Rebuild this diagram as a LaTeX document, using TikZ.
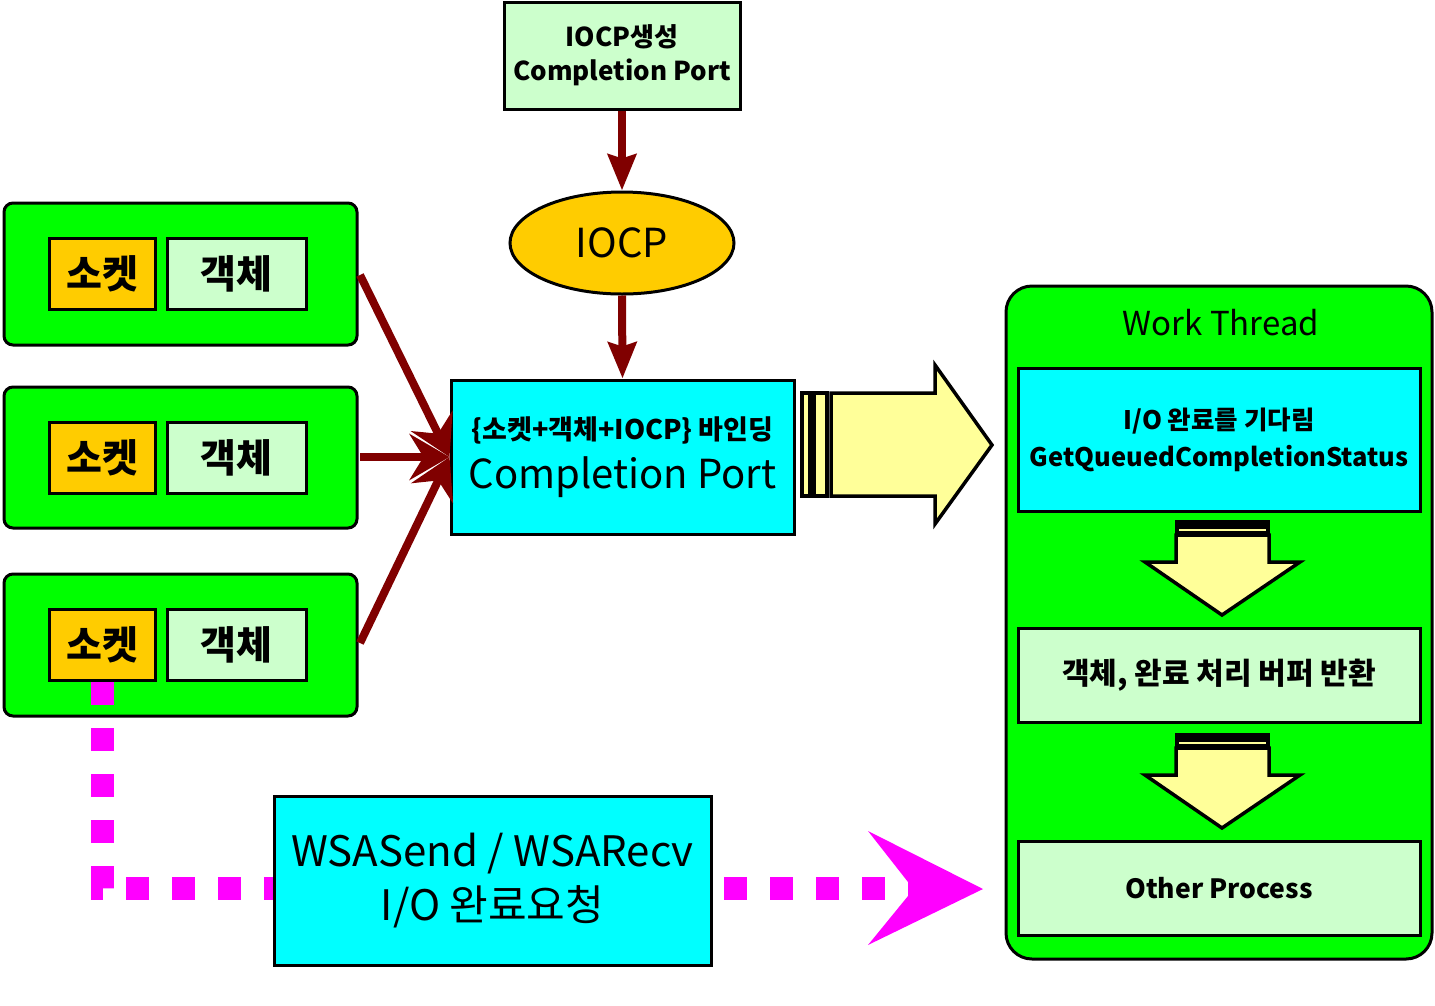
\documentclass[tikz,border=0pt]{standalone}
\usepackage{fontspec}
\setmainfont{Noto Sans CJK KR}
\usetikzlibrary{arrows.meta,shapes.geometric}
\definecolor{dred}{HTML}{800000}
\definecolor{lgreen}{HTML}{CCFFCC}
\definecolor{brgreen}{HTML}{00FF00}
\definecolor{gold}{HTML}{FFCC00}
\definecolor{cyanc}{HTML}{00FFFF}
\definecolor{pyellow}{HTML}{FFFF99}
\definecolor{mag}{HTML}{FF00FF}
\newcommand{\fsz}[2]{\fontsize{#1}{#2}\selectfont}
\begin{document}
\begin{tikzpicture}[x=1pt,y=-1pt,
  box/.style={draw=black,line width=3pt,inner sep=0pt,align=center},
  greenbox/.style={box,fill=brgreen,rounded corners=9pt,minimum width=353pt},
  sockbox/.style={box,fill=gold,minimum width=106pt,minimum height=71pt,font=\bfseries\fsz{39}{39}},
  objbox/.style={box,fill=lgreen,minimum width=139pt,minimum height=71pt,font=\bfseries\fsz{39}{39}},
  stepbox/.style={box,fill=lgreen,minimum width=402pt,minimum height=94pt},
  redarrow/.style={draw=dred,line width=8pt,-{Stealth[length=40pt,width=46pt,inset=14pt]}},
  vredarrow/.style={draw=dred,line width=8pt,-{Stealth[length=36pt,width=28pt,inset=4pt]}},
  blockarrow/.style={draw=black,line width=3.5pt,fill=pyellow,line join=miter},
]
\useasboundingbox (0,0) rectangle (1435,1005);

% top creation box
\node[box,fill=lgreen,minimum width=236pt,minimum height=107pt,font=\bfseries\fsz{26}{34}] (top) at (622,55.5)
  {IOCP생성\\Completion Port};
% IOCP ellipse
\node[draw=black,line width=3pt,fill=gold,ellipse,minimum width=224pt,minimum height=102pt,inner sep=0pt,font=\fsz{40}{40}] (iocp) at (622,243) {IOCP};
% binding box
\node[box,fill=cyanc,minimum width=343pt,minimum height=154pt,font=\fsz{40}{49}] (bind) at (622.5,457)
  {{\bfseries\fsz{27}{27}\{소켓+객체+IOCP\} 바인딩}\\Completion Port};

% left socket groups
\node[greenbox,minimum height=142pt] (g1) at (180.5,274) {};
\node[greenbox,minimum height=141pt] (g2) at (180.5,457.5) {};
\node[greenbox,minimum height=142pt] (g3) at (180.5,645) {};
\node[sockbox] (s1) at (102,273.5) {소켓};
\node[objbox] (o1) at (236.5,273.5) {객체};
\node[sockbox] (s2) at (102,457.5) {소켓};
\node[objbox] (o2) at (236.5,457.5) {객체};
\node[sockbox] (s3) at (102,645) {소켓};
\node[objbox] (o3) at (236.5,645) {객체};

% work thread
\node[box,fill=brgreen,rounded corners=26pt,minimum width=426pt,minimum height=673pt] (work) at (1219,622.5) {};
\node[font=\fsz{33}{33}] (wtitle) at (1221,323) {Work Thread};
\node[box,fill=cyanc,minimum width=402pt,minimum height=143pt,font=\bfseries\fsz{25.5}{37}] (wait) at (1219,439.5)
  {I/O 완료를 기다림\\GetQueuedCompletionStatus};
\node[stepbox,font=\bfseries\fsz{30}{30}] (proc) at (1219,675) {객체, 완료 처리 버퍼 반환};
\node[stepbox,font=\bfseries\fsz{26.5}{26.5}] (other) at (1219,888) {Other Process};

% red connectors
\draw[vredarrow] (top.south) -- (iocp.north);
\draw[vredarrow] (iocp.south) -- (bind.north);
\coordinate (a1) at (360,275);
\coordinate (a2) at (360,457);
\coordinate (a3) at (360,643);
\draw[redarrow] (a1) -- (bind.west);
\draw[redarrow] (a2) -- (bind.west);
\draw[redarrow] (a3) -- (bind.west);

% big block arrow to work thread
\draw[blockarrow] (802,393) rectangle (810,496);
\draw[blockarrow] (814,393) rectangle (827,496);
\draw[blockarrow] (831,393) -- (935,393) -- (935,365) -- (992,445) -- (935,524) -- (935,496) -- (831,496) -- cycle;

% down arrows inside work thread
\foreach \dy in {0,213}{
  \fill[black] (1175,520+\dy) rectangle (1270,535+\dy);
  \draw[pyellow,line width=1.5pt] (1179,530+\dy) -- (1266,530+\dy);
  \draw[blockarrow] (1176,535+\dy) -- (1269,535+\dy) -- (1269,562+\dy) -- (1300,562+\dy) -- (1222,615+\dy) -- (1145,562+\dy) -- (1176,562+\dy) -- cycle;
}

% magenta dotted request path
\coordinate (m0) at (102,682);
\coordinate (m1) at (102,888);
\coordinate (m2) at (885,888);
\draw[mag,line width=23pt,dash pattern=on 23pt off 23pt] (m0) -- (m1) -- (m2);
\fill[mag] (868,831) -- (983,889) -- (868,945) -- (908,896) -- (908,882) -- cycle;

% WSA box
\node[box,fill=cyanc,minimum width=437pt,minimum height=169pt,font=\fsz{42}{54}] (wsa) at (492.5,881)
  {WSASend / WSARecv\\I/O 완료요청};
\end{tikzpicture}
\end{document}
